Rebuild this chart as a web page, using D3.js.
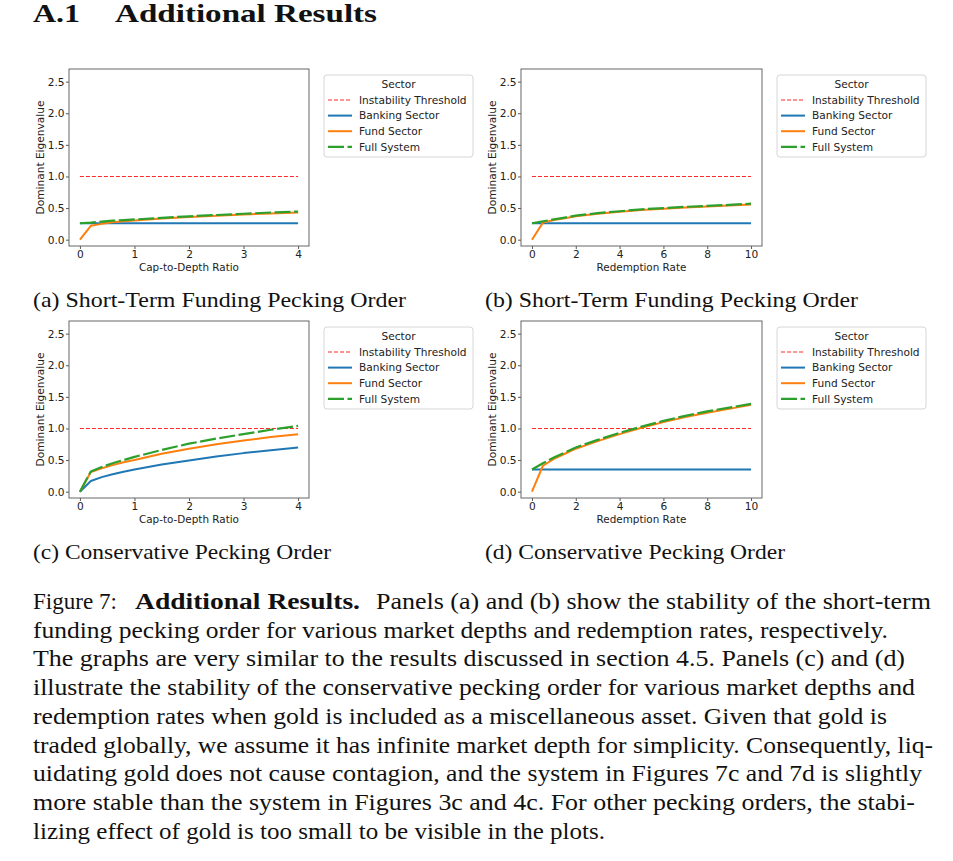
<!DOCTYPE html>
<html>
<head>
<meta charset="utf-8">
<script src="https://cdn.jsdelivr.net/npm/d3@7"></script>
<style>
  body { margin: 0; background: #fff; }
  svg { display: block; }
</style>
</head>
<body>
<div id="chart"></div>
<script>
// x grids
const capX = [0, 0.2, 0.4, 0.6, 0.8, 1, 1.5, 2, 2.5, 3, 3.5, 4];
const redX = [0, 0.5, 1, 1.5, 2, 3, 4, 5, 6, 7, 8, 9, 10];

// (a) short-term funding, cap-to-depth
const aBank = [0.26, 0.26, 0.26, 0.26, 0.26, 0.26, 0.26, 0.26, 0.26, 0.26, 0.26, 0.26];
const aFund = [0.00, 0.22, 0.25, 0.275, 0.29, 0.305, 0.335, 0.36, 0.38, 0.40, 0.415, 0.43];
const aFull = [0.26, 0.27, 0.285, 0.30, 0.31, 0.32, 0.345, 0.37, 0.39, 0.41, 0.43, 0.445];

// (b) short-term funding, redemption rate
const bBank = [0.26, 0.26, 0.26, 0.26, 0.26, 0.26, 0.26, 0.26, 0.26, 0.26, 0.26, 0.26, 0.26];
const bFund = [0.00, 0.27, 0.31, 0.34, 0.37, 0.41, 0.44, 0.47, 0.49, 0.51, 0.525, 0.54, 0.555];
const bFull = [0.26, 0.29, 0.32, 0.35, 0.38, 0.42, 0.45, 0.48, 0.50, 0.52, 0.535, 0.55, 0.57];

// (c) conservative, cap-to-depth
const cBank = [0.00, 0.17, 0.23, 0.275, 0.315, 0.35, 0.43, 0.495, 0.555, 0.61, 0.655, 0.70];
const cFund = [0.00, 0.31, 0.37, 0.42, 0.465, 0.50, 0.60, 0.68, 0.75, 0.81, 0.865, 0.91];
const cFull = [0.00, 0.32, 0.39, 0.45, 0.50, 0.55, 0.66, 0.76, 0.84, 0.91, 0.98, 1.04];

// (d) conservative, redemption rate
const dBank = [0.35, 0.35, 0.35, 0.35, 0.35, 0.35, 0.35, 0.35, 0.35, 0.35, 0.35, 0.35, 0.35];
const dFund = [0.00, 0.41, 0.52, 0.60, 0.68, 0.80, 0.91, 1.01, 1.10, 1.18, 1.25, 1.31, 1.375];
const dFull = [0.35, 0.45, 0.54, 0.62, 0.70, 0.82, 0.93, 1.03, 1.12, 1.20, 1.27, 1.33, 1.39];

const threshold = 1.0;
const yTicks = [0, 0.5, 1, 1.5, 2, 2.5];
const capTicks = [0, 1, 2, 3, 4];
const redTicks = [0, 2, 4, 6, 8, 10];
const legendLabels = ["Instability Threshold", "Banking Sector", "Fund Sector", "Full System"];

const captionLines = [
    "funding pecking order for various market depths and redemption rates, respectively.",
    "The graphs are very similar to the results discussed in section 4.5. Panels (c) and (d)",
    "illustrate the stability of the conservative pecking order for various market depths and",
    "redemption rates when gold is included as a miscellaneous asset. Given that gold is",
    "traded globally, we assume it has infinite market depth for simplicity. Consequently, liq-",
    "uidating gold does not cause contagion, and the system in Figures 7c and 7d is slightly",
    "more stable than the system in Figures 3c and 4c. For other pecking orders, the stabi-",
    "lizing effect of gold is too small to be visible in the plots."
];
const captionEnds = [888, 905, 915, 887, 933, 922, 915, 605];

const width = 953, height = 861;
const serif = "'Liberation Serif', 'Times New Roman', serif";
const sans = "'DejaVu Sans', sans-serif";

const svg = d3.select("#chart")
    .append("svg")
    .attr("width", width)
    .attr("height", height)
    .attr("viewBox", `0 0 ${width} ${height}`);

svg.append("rect").attr("width", width).attr("height", height).attr("fill", "#fff");

// section heading
svg.append("text")
    .attr("x", 33).attr("y", 22)
    .attr("font-family", serif).attr("font-weight", "bold").attr("font-size", 24.5)
    .attr("textLength", 47).attr("lengthAdjust", "spacingAndGlyphs")
    .attr("fill", "#111")
    .text("A.1");
svg.append("text")
    .attr("x", 115).attr("y", 22)
    .attr("font-family", serif).attr("font-weight", "bold").attr("font-size", 24.5)
    .attr("textLength", 262).attr("lengthAdjust", "spacingAndGlyphs")
    .attr("fill", "#111")
    .text("Additional Results");

const panels = [
    { left: 69, top: 69, w: 240, xs: capX, bank: aBank, fund: aFund, full: aFull,
      xDomain: [-0.2, 4.2], xTicks: capTicks, xLabel: "Cap-to-Depth Ratio",
      caption: "(a) Short-Term Funding Pecking Order", capX: 33, capY: 307, capW: 373 },
    { left: 521, top: 69, w: 241, xs: redX, bank: bBank, fund: bFund, full: bFull,
      xDomain: [-0.5, 10.5], xTicks: redTicks, xLabel: "Redemption Rate",
      caption: "(b) Short-Term Funding Pecking Order", capX: 485, capY: 307, capW: 373 },
    { left: 69, top: 321, w: 240, xs: capX, bank: cBank, fund: cFund, full: cFull,
      xDomain: [-0.2, 4.2], xTicks: capTicks, xLabel: "Cap-to-Depth Ratio",
      caption: "(c) Conservative Pecking Order", capX: 33, capY: 559, capW: 298 },
    { left: 521, top: 321, w: 241, xs: redX, bank: dBank, fund: dFund, full: dFull,
      xDomain: [-0.5, 10.5], xTicks: redTicks, xLabel: "Redemption Rate",
      caption: "(d) Conservative Pecking Order", capX: 485, capY: 559, capW: 300 }
];

const plotH = 177;
const styles = [
    { color: "#ff2a2a", width: 1.1, dash: "4,2" },
    { color: "#1f77b4", width: 2, dash: null },
    { color: "#ff7f0e", width: 2, dash: null },
    { color: "#2ca02c", width: 2.2, dash: "16,3.5" }
];

panels.forEach(p => {
    const g = svg.append("g").attr("transform", `translate(${p.left},${p.top})`);
    const x = d3.scaleLinear().domain(p.xDomain).range([0, p.w]);
    const y = d3.scaleLinear().domain([-0.1, 2.7]).range([plotH, 0]);

    // axes
    const yAxis = g.append("g")
        .call(d3.axisLeft(y).tickValues(yTicks).tickFormat(d3.format(".1f")).tickSize(3).tickPadding(1.5));
    const xAxis = g.append("g")
        .attr("transform", `translate(0,${plotH})`)
        .call(d3.axisBottom(x).tickValues(p.xTicks).tickFormat(d3.format("d")).tickSize(3).tickPadding(1.5));
    [xAxis, yAxis].forEach(a => {
        a.select(".domain").remove();
        a.selectAll(".tick line").attr("stroke", "#444").attr("stroke-width", 0.9);
        a.selectAll(".tick text").attr("font-family", sans).attr("font-size", 10.6).attr("fill", "#222");
    });

    // series
    const line = d3.line().x(d => x(d[0])).y(d => y(d[1]));
    const xr = [p.xs[0], p.xs[p.xs.length - 1]];
    const series = [
        xr.map(v => [v, threshold]),
        p.xs.map((v, i) => [v, p.bank[i]]),
        p.xs.map((v, i) => [v, p.fund[i]]),
        p.xs.map((v, i) => [v, p.full[i]])
    ];
    series.forEach((s, i) => {
        g.append("path")
            .datum(s)
            .attr("d", line)
            .attr("fill", "none")
            .attr("stroke", styles[i].color)
            .attr("stroke-width", styles[i].width)
            .attr("stroke-dasharray", styles[i].dash)
            .attr("stroke-linejoin", "round");
    });

    // frame
    g.append("rect")
        .attr("width", p.w).attr("height", plotH)
        .attr("fill", "none").attr("stroke", "#666").attr("stroke-width", 1);

    // axis labels
    g.append("text")
        .attr("transform", `translate(-29,${plotH / 2}) rotate(-90)`)
        .attr("text-anchor", "middle").attr("dominant-baseline", "central")
        .attr("font-family", sans).attr("font-size", 10.6).attr("fill", "#222")
        .text("Dominant Eigenvalue");
    g.append("text")
        .attr("x", p.w / 2).attr("y", plotH + 24.5)
        .attr("text-anchor", "middle")
        .attr("font-family", sans).attr("font-size", 10.4).attr("fill", "#222")
        .text(p.xLabel);

    // legend
    const lg = g.append("g").attr("transform", `translate(${p.w + 15},6)`);
    lg.append("rect")
        .attr("width", 149).attr("height", 82).attr("rx", 3)
        .attr("fill", "#fff").attr("stroke", "#d6d6d6").attr("stroke-width", 1);
    lg.append("text")
        .attr("x", 74.5).attr("y", 13)
        .attr("text-anchor", "middle")
        .attr("font-family", sans).attr("font-size", 10.6).attr("fill", "#222")
        .text("Sector");
    legendLabels.forEach((lab, i) => {
        const cy = 25 + i * 15.6;
        lg.append("line")
            .attr("x1", 4).attr("x2", 28).attr("y1", cy).attr("y2", cy)
            .attr("stroke", styles[i].color)
            .attr("stroke-width", styles[i].width)
            .attr("stroke-dasharray", styles[i].dash);
        lg.append("text")
            .attr("x", 35).attr("y", cy + 3.8)
            .attr("font-family", sans).attr("font-size", 10.6).attr("fill", "#222")
            .text(lab);
    });

    // subcaption
    svg.append("text")
        .attr("x", p.capX).attr("y", p.capY)
        .attr("font-family", serif).attr("font-size", 22)
        .attr("textLength", p.capW).attr("lengthAdjust", "spacingAndGlyphs")
        .attr("fill", "#111")
        .text(p.caption);
});

// figure caption
const capFont = 23.2, capTop = 609, capStep = 28.7;
svg.append("text")
    .attr("x", 33).attr("y", capTop)
    .attr("font-family", serif).attr("font-size", capFont)
    .attr("textLength", 84).attr("lengthAdjust", "spacingAndGlyphs")
    .attr("fill", "#111").text("Figure 7:");
svg.append("text")
    .attr("x", 135).attr("y", capTop)
    .attr("font-family", serif).attr("font-size", capFont).attr("font-weight", "bold")
    .attr("textLength", 225).attr("lengthAdjust", "spacingAndGlyphs")
    .attr("fill", "#111").text("Additional Results.");
svg.append("text")
    .attr("x", 376).attr("y", capTop)
    .attr("font-family", serif).attr("font-size", capFont)
    .attr("textLength", 555).attr("lengthAdjust", "spacingAndGlyphs")
    .attr("fill", "#111").text("Panels (a) and (b) show the stability of the short-term");

captionLines.forEach((t, i) => {
    svg.append("text")
        .attr("x", 33).attr("y", capTop + (i + 1) * capStep)
        .attr("font-family", serif).attr("font-size", capFont)
        .attr("textLength", captionEnds[i] - 33).attr("lengthAdjust", "spacingAndGlyphs")
        .attr("fill", "#111")
        .text(t);
});
</script>
</body>
</html>
